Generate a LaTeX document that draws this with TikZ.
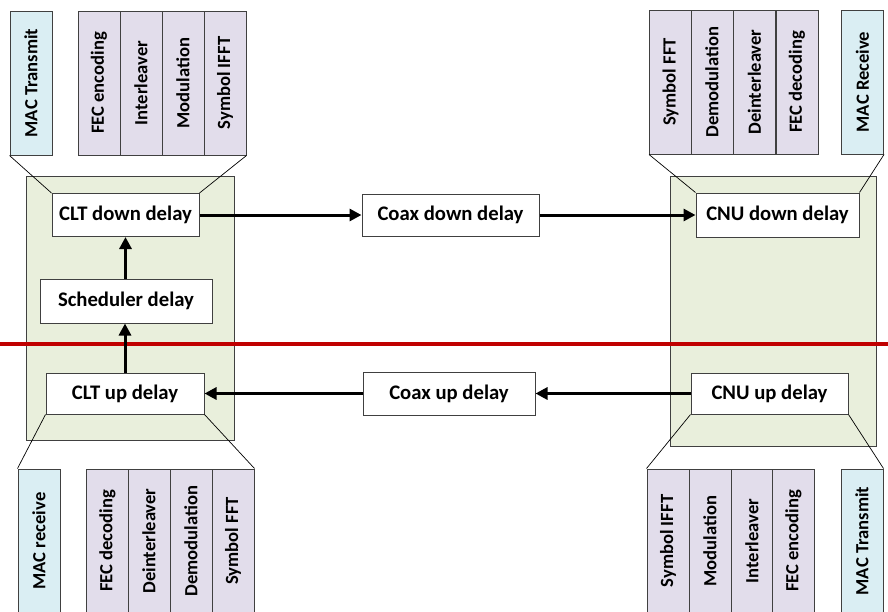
\documentclass[tikz,border=0pt]{standalone}
\usepackage{fontspec}
\setmainfont{Carlito}
\usetikzlibrary{arrows.meta}

\definecolor{macblue}{HTML}{DAEEF3}
\definecolor{phylilac}{HTML}{E2DDEB}
\definecolor{nodegreen}{HTML}{E9EFDC}
\definecolor{edgegray}{HTML}{404040}
\definecolor{splitred}{HTML}{C00000}

\tikzset{
  txt/.style={font=\fontsize{20.7}{24}\selectfont\bfseries, text=black},
  vtxt/.style={font=\fontsize{18.6}{22}\selectfont\bfseries, text=black},
  group/.style={draw=edgegray, line width=1pt, fill=nodegreen, inner sep=0pt},
  delaybox/.style={txt, draw=edgegray, line width=1pt, fill=white, inner sep=0pt},
  cell/.style={vtxt, draw=edgegray, line width=1pt, inner sep=0pt,
               minimum width=42pt, minimum height=144pt},
  maccell/.style={cell, fill=macblue},
  phycell/.style={cell, fill=phylilac},
  fan/.style={draw=black, line width=0.7pt},
  flow/.style={draw=black, line width=3pt,
               -{Triangle[length=12pt,width=12pt]}},
  split/.style={draw=splitred, line width=4pt}
}

\begin{document}
\begin{tikzpicture}[x=1pt, y=-1pt]
  \useasboundingbox (0,0) rectangle (888,611);
  \clip (0,0) rectangle (888,611);

  % CLT and CNU enclosures
  \node[group, minimum width=208pt, minimum height=264pt] (clt) at (130,308) {};
  \node[group, minimum width=206pt, minimum height=270pt] (cnu) at (773,311) {};

  % delay blocks
  \node[delaybox, minimum width=147pt, minimum height=43pt] (cltd) at (125.5,215) {CLT down delay};
  \node[delaybox, minimum width=172pt, minimum height=44pt] (sched) at (126,301) {Scheduler delay};
  \node[delaybox, minimum width=158pt, minimum height=41pt] (cltu) at (125,393.5) {CLT up delay};
  \node[delaybox, minimum width=177pt, minimum height=42pt] (coaxd) at (450.5,215) {Coax down delay};
  \node[delaybox, minimum width=172pt, minimum height=43pt] (coaxu) at (449,393.5) {Coax up delay};
  \node[delaybox, minimum width=163pt, minimum height=44pt] (cnud) at (777.5,215) {CNU down delay};
  \node[delaybox, minimum width=157pt, minimum height=41pt] (cnuu) at (769.5,393.5) {CNU up delay};

  % CLT downstream chain
  \node[maccell] (tlmac) at (31,83) {\rotatebox{90}{MAC Transmit}};
  \node[phycell] (tl1) at (99,83) {\rotatebox{90}{FEC encoding}};
  \node[phycell] (tl2) at (141,83) {\rotatebox{90}{Interleaver}};
  \node[phycell] (tl3) at (183,83) {\rotatebox{90}{Modulation}};
  \node[phycell] (tl4) at (225,83) {\rotatebox{90}{Symbol IFFT}};

  % CNU downstream chain
  \node[phycell] (tr1) at (670.5,82) {\rotatebox{90}{Symbol FFT}};
  \node[phycell] (tr2) at (712,82) {\rotatebox{90}{Demodulation}};
  \node[phycell] (tr3) at (754.5,82) {\rotatebox{90}{Deinterleaver}};
  \node[phycell] (tr4) at (797,82) {\rotatebox{90}{FEC decoding}};
  \node[maccell] (trmac) at (862.5,82) {\rotatebox{90}{MAC Receive}};

  % CLT upstream chain
  \node[maccell] (blmac) at (39,541) {\rotatebox{90}{MAC receive}};
  \node[phycell] (bl1) at (107.5,541) {\rotatebox{90}{FEC decoding}};
  \node[phycell] (bl2) at (149,541) {\rotatebox{90}{Deinterleaver}};
  \node[phycell] (bl3) at (191,541) {\rotatebox{90}{Demodulation}};
  \node[phycell] (bl4) at (233,541) {\rotatebox{90}{Symbol FFT}};

  % CNU upstream chain
  \node[phycell] (br1) at (668,541) {\rotatebox{90}{Symbol IFFT}};
  \node[phycell] (br2) at (710,541) {\rotatebox{90}{Modulation}};
  \node[phycell] (br3) at (752,541) {\rotatebox{90}{Interleaver}};
  \node[phycell] (br4) at (793.5,541) {\rotatebox{90}{FEC encoding}};
  \node[maccell] (brmac) at (862,541) {\rotatebox{90}{MAC Transmit}};

  % fan lines to the expanded chains
  \draw[fan] (tlmac.south west) -- (cltd.north west);
  \draw[fan] (tl4.south east) -- (cltd.north east);
  \draw[fan] (tr1.south west) -- (cnud.north west);
  \draw[fan] (trmac.south east) -- (cnud.north east);
  \draw[fan] (cltu.south west) -- (blmac.north west);
  \draw[fan] (cltu.south east) -- (bl4.north east);
  \draw[fan] (cnuu.south west) -- (br1.north west);
  \draw[fan] (cnuu.south east) -- (brmac.north east);

  % downstream / upstream split
  \coordinate (splitL) at (0,344);
  \coordinate (splitR) at (888,344);
  \draw[split] (splitL) -- (splitR);

  % signal flow
  \draw[flow] (cltd.east) -- (coaxd.west);
  \draw[flow] (coaxd.east) -- (cnud.west);
  \draw[flow] (cnuu.west) -- (coaxu.east);
  \draw[flow] (coaxu.west) -- (cltu.east);
  \draw[flow] (cltu.north) -- (cltu.north |- sched.south);
  \draw[flow] (sched.north -| cltd.south) -- (cltd.south);
\end{tikzpicture}
\end{document}
